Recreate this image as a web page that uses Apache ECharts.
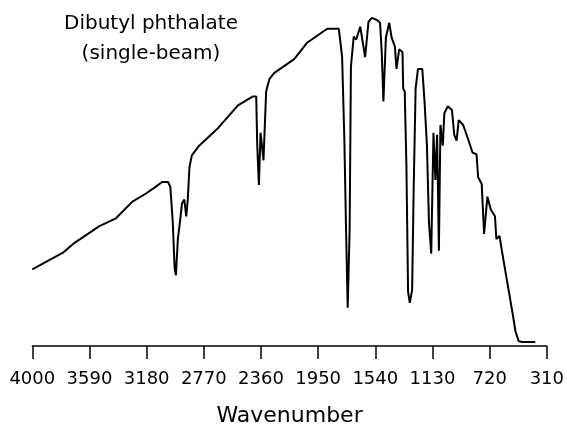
<!DOCTYPE html>
<html>
<head>
<meta charset="utf-8">
<script src="https://cdn.jsdelivr.net/npm/echarts@6/dist/echarts.min.js"></script>
<style>html,body{margin:0;padding:0;background:#fff}#c{width:567px;height:432px}</style>
</head>
<body>
<div id="c"></div>
<script>
// Wavenumber (cm-1)
const wavenumbers = [4000,3780,3697,3519,3400,3282,3187,3116,3069,3027,3010,2993,2979,2970,2956,2939,2927,2910,2896,2885,2873,2856,2809,2667,2525,2418,2394,2387,2375,2363,2342,2323,2299,2264,2122,2027,1885,1802,1791,1778,1762,1750,1738,1724,1715,1695,1677,1648,1613,1589,1565,1530,1506,1494,1482,1464,1440,1423,1400,1388,1369,1345,1340,1329,1317,1305,1293,1276,1265,1251,1234,1203,1187,1170,1155,1139,1123,1109,1097,1084,1073,1056,1045,1020,990,974,957,942,910,878,843,814,803,777,760,736,712,682,672,649,630,606,578,554,535,512,488,393];
// Single-beam intensity (arbitrary units)
const intensity = [78,95,105,122,130,147,155,162,167,167,162,127,79,72,109,129,145,149,132,149,182,194,203,222,245,254,254,205,164,217,189,259,272,278,292,309,323,323,310,294,210,119,39,120,284,315,312,325,294,330,334,332,329,299,249,314,329,314,305,282,302,299,262,259,184,55,44,57,159,262,282,282,249,205,125,94,217,169,215,97,225,204,237,244,240,215,209,230,225,212,197,195,172,165,114,152,139,132,109,112,95,75,52,32,15,5,4,4];
const tickLabels = ['4000','3590','3180','2770','2360','1950','1540','1130','720','310'];
const titleLines = ['Dibutyl phthalate','(single-beam)'];
const xAxisName = 'Wavenumber';

const startWn = Number(tickLabels[0]);
const seriesData = wavenumbers.map((w, i) => [startWn - w, intensity[i]]);
const span = startWn - Number(tickLabels[tickLabels.length - 1]);
const step = span / (tickLabels.length - 1);

const chart = echarts.init(document.getElementById('c'), null, {renderer: 'canvas'});
chart.setOption({
  animation: false,
  backgroundColor: '#fff',
  title: {
    text: titleLines.join('\n'),
    left: 151,
    top: 9,
    padding: 0,
    textAlign: 'center',
    textStyle: {fontFamily: 'DejaVu Sans', fontSize: 20, fontWeight: 'normal', color: '#000', lineHeight: 30}
  },
  grid: {left: 32.3, right: 15.3, top: 12, bottom: 80, containLabel: false},
  xAxis: {
    type: 'value',
    min: 0,
    max: span,
    interval: step,
    name: xAxisName,
    nameLocation: 'middle',
    nameGap: 59,
    nameTextStyle: {fontFamily: 'DejaVu Sans', fontSize: 22, color: '#000'},
    axisLine: {show: true, lineStyle: {color: '#000', width: 1.5}},
    axisTick: {show: true, length: 13, lineStyle: {color: '#000', width: 1.5}},
    axisLabel: {
      margin: 24,
      fontFamily: 'DejaVu Sans', fontSize: 18, color: '#000',
      formatter: v => String(Math.round(startWn - v))
    },
    splitLine: {show: false}
  },
  yAxis: {type: 'value', min: 0, max: 340, show: false},
  series: [{
    type: 'line',
    data: seriesData,
    showSymbol: false,
    symbol: 'none',
    smooth: false,
    lineStyle: {color: '#000', width: 2},
    silent: true
  }]
});
</script>
</body>
</html>
